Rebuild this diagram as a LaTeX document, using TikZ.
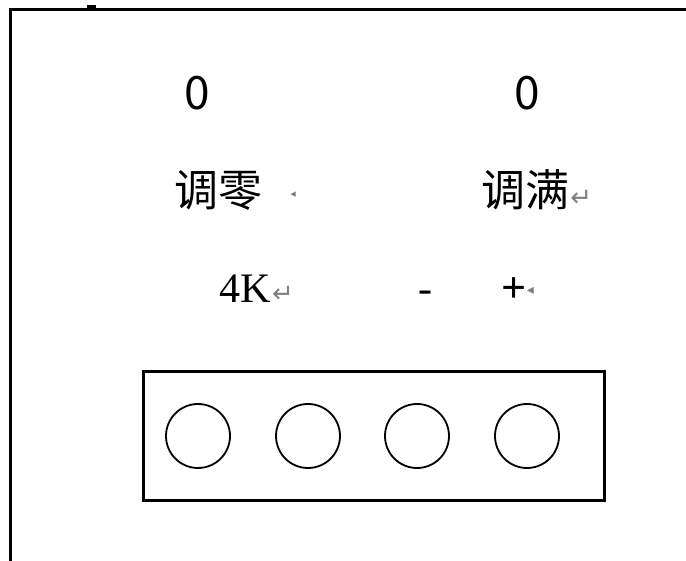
\documentclass[tikz,border=0pt]{standalone}
\usepackage{fontspec}
\setmainfont{Liberation Serif}
\newfontfamily\cjk{Noto Sans CJK SC}
\newfontfamily\symfont{DejaVu Sans}
\usetikzlibrary{positioning}

\tikzset{
  socket/.style={draw, circle, line width=1.8pt, minimum size=64pt, inner sep=0pt},
  txt/.style={inner sep=0pt},
  retmark/.style={inner sep=0pt, text=gray, font=\symfont\fontsize{26}{26}\selectfont},
}

\begin{document}
\begin{tikzpicture}[x=1pt, y=-1pt]
        \useasboundingbox (0,0) rectangle (686,561);
        % frame of the panel
        \draw[line width=3pt] (686,10) -- (10,10) -- (10,561);
        \draw[line width=3pt] (87,6.5) -- (96,6.5);

        \node[txt, font=\cjk\fontsize{46}{46}\selectfont] (zero1) at (197,93) {0};
        \node[txt, font=\cjk\fontsize{46}{46}\selectfont] (zero2) at (527,93) {0};

        \node[txt, font=\cjk\fontsize{44}{44}\selectfont] (adjz) at (218,190) {调零};
        \node[txt, font=\cjk\fontsize{44}{44}\selectfont] (adjf) at (525,190) {调满};
        \node[retmark, font=\symfont\fontsize{11}{11}\selectfont, right=28pt of adjz.east, yshift=-5pt] (m1) {◂};
        \node[retmark, anchor=base west, xshift=1pt] (m2) at (adjf.base east) {↵};

        % terminals
        \node[txt, anchor=base, font=\fontsize{42}{42}\selectfont] (fourk) at (245,303) {4K};
        \node[retmark, anchor=base west, xshift=1pt] (m3) at (fourk.base east) {↵};
        \node[txt, anchor=base, font=\fontsize{42}{42}\selectfont] (minus) at (425,303) {-};
        \node[txt, anchor=base, font=\fontsize{44}{44}\selectfont\bfseries] (plus) at (514,303) {+};
        \node[retmark, font=\symfont\fontsize{14}{14}\selectfont, right=0pt of plus.east] (m4) {◂};

        % terminal strip
        \node[draw, line width=3pt, minimum width=461pt, minimum height=128pt, inner sep=0pt] (strip) at (373.5,436) {};
        \foreach \x [count=\i] in {198,308,417,527}
          \node[socket] (s\i) at (\x,436) {};
      \end{tikzpicture}
\end{document}
